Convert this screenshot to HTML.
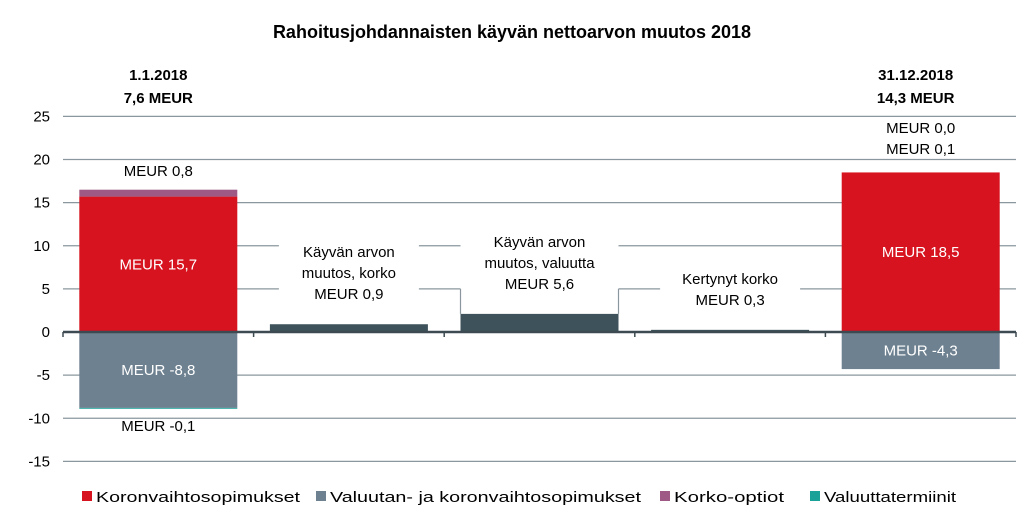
<!DOCTYPE html>
<html><head><meta charset="utf-8"><style>
html,body{margin:0;padding:0;background:#fff;}
svg{display:block;font-family:"Liberation Sans",Arial,sans-serif;}
</style></head><body>
<svg id="chart" width="1024" height="532" viewBox="0 0 1024 532">
<text x="512" y="38" text-anchor="middle" font-size="18" font-weight="bold" fill="#000">Rahoitusjohdannaisten käyvän nettoarvon muutos 2018</text>
<g id="grid"></g><g id="bars"></g><g id="labels"></g><g id="legend"></g>
</svg>
<script>
const yTicks = [25, 20, 15, 10, 5, 0, -5, -10, -15];
const categories = ['1.1.2018', 'korko', 'valuutta', 'kertynyt', '31.12.2018'];
const koronvaihto = [15.7, 0, 0, 0, 18.5];
const valuutan = [-8.8, 0, 0, 0, -4.3];
const korkoOptiot = [0.8, 0, 0, 0, 0.0];
const valuuttatermiinit = [-0.1, 0, 0, 0, 0.0];
const changes = [0, 0.9, 2.1, 0.25, 0];
const changeLabels = [null, ['Käyvän arvon','muutos, korko','MEUR 0,9'], ['Käyvän arvon','muutos, valuutta','MEUR 5,6'], ['Kertynyt korko','MEUR 0,3'], null];
const legendNames = ['Koronvaihtosopimukset', 'Valuutan- ja koronvaihtosopimukset', 'Korko-optiot', 'Valuuttatermiinit'];

const NS = 'http://www.w3.org/2000/svg';
const X0 = 63, X1 = 1016, Y0 = 332, PX = 8.625;
const catW = (X1 - X0) / categories.length, barW = 158;
const y = v => Y0 - v * PX;
const cx = i => X0 + catW * (i + 0.5);
function mk(tag, attrs, parent) { const e = document.createElementNS(NS, tag); for (const k in attrs) e.setAttribute(k, attrs[k]); parent.appendChild(e); return e; }
const grid = document.getElementById('grid'), bars = document.getElementById('bars'), labels = document.getElementById('labels'), legend = document.getElementById('legend');

yTicks.forEach(t => {
  if (t !== 0) {
    const l = mk('line', {x1: X0, x2: X1, y1: y(t), y2: y(t), stroke: '#8a979e', 'stroke-width': 1.3}, grid);
    
    
  }
  const tx = mk('text', {x: 50, y: y(t) + 5, 'text-anchor': 'end', 'font-size': 15, fill: '#000'}, grid);
  tx.textContent = t;
  
  
});

function rect(x, v0, v1, color, name) {
  const top = Math.min(y(v0), y(v1)), h = Math.abs(y(v1) - y(v0));
  const r = mk('rect', {x: x, y: top, width: barW, height: Math.max(h, 0), fill: color}, bars);
  
  
  return r;
}
function txt(x, yy, s, opts, name) {
  const t = mk('text', Object.assign({x: x, y: yy, 'text-anchor': 'middle', 'font-size': 15, fill: '#000'}, opts || {}), labels);
  t.textContent = s;
  
  
  return t;
}
const fmt = v => 'MEUR ' + v.toFixed(1).replace('.', ',');

categories.forEach((c, i) => {
  const x = cx(i) - barW / 2;
  if (i === 0 || i === 4) {
    rect(x, 0, koronvaihto[i], '#d7131f', 'bar-koronvaihto-' + i);
    rect(x, koronvaihto[i], koronvaihto[i] + korkoOptiot[i], '#9e5a84', 'bar-korko-optiot-' + i);
    rect(x, 0, valuutan[i], '#6e8190', 'bar-valuutan-' + i);
    rect(x, valuutan[i], valuutan[i] + valuuttatermiinit[i], '#1aa198', 'bar-valuuttatermiinit-' + i);
    txt(cx(i), (y(0) + y(koronvaihto[i])) / 2 + 5, fmt(koronvaihto[i]), {fill: '#fff'}, 'label-koronvaihto-' + i);
    txt(cx(i), (y(0) + y(valuutan[i])) / 2 + 5, fmt(valuutan[i]), {fill: '#fff'}, 'label-valuutan-' + i);
  } else {
    rect(x, 0, changes[i], '#3d525b', 'bar-change-' + i);
  }
});
// first bar extra labels
txt(cx(0), 176, fmt(korkoOptiot[0]), {}, 'label-korko-optiot-0');
txt(cx(0), 431, fmt(valuuttatermiinit[0]), {}, 'label-valuuttatermiinit-0');
txt(cx(4), 133, fmt(korkoOptiot[4]), {}, 'label-korko-optiot-4');
txt(cx(4), 154, fmt(-0.1).replace('-', ''), {}, 'label-valuuttatermiinit-4');
// header annotations
txt(cx(0), 80, '1.1.2018', {'font-weight': 'bold'}, 'start-date');
txt(cx(0), 103, '7,6 MEUR', {'font-weight': 'bold'}, 'start-total');
txt(cx(4) - 5, 80, '31.12.2018', {'font-weight': 'bold'}, 'end-date');
txt(cx(4) - 5, 103, '14,3 MEUR', {'font-weight': 'bold'}, 'end-total');

// change labels with white boxes
changeLabels.forEach((ls, i) => {
  if (!ls) return;
  const n = ls.length, lh = 21;
  const bottom = y(changes[i]) - 6;
  const top = bottom - n * lh + 2;
  const bw = i === 2 ? barW : 140;
  const b = mk('rect', {x: cx(i) - bw / 2, y: top - 16, width: bw, height: bottom - top + 14, fill: '#fff'}, labels);
  
  
  if (i === 2) {
    [cx(i) - barW / 2, cx(i) + barW / 2].forEach(xx => {
      const v = mk('line', {x1: xx, x2: xx, y1: y(5), y2: y(changes[i]), stroke: '#8a979e', 'stroke-width': 1.2}, labels);
      
      
    });
  }
  ls.forEach((s, k) => txt(cx(i), top + k * lh, s, {}, 'change-label-' + i));
});

// zero axis
const ax = mk('line', {x1: X0, x2: X1, y1: Y0, y2: Y0, stroke: '#3d4a52', 'stroke-width': 2.5}, labels);


for (let i = 0; i <= categories.length; i++) {
  const xx = X0 + catW * i;
  const tk = mk('line', {x1: xx, x2: xx, y1: Y0, y2: Y0 + 5, stroke: '#3d4a52', 'stroke-width': 1.5}, labels);
  
  
}

// legend
const legColors = ['#d7131f', '#6e8190', '#9e5a84', '#1aa198'];
const legX = [82, 316, 660, 810];
const legW = [204, 311, 110, 132];
legendNames.forEach((n, i) => {
  const g = mk('g', {}, legend);
  
  
  mk('rect', {x: legX[i], y: 491, width: 10, height: 10, fill: legColors[i]}, g);
  const t = mk('text', {x: legX[i] + 14, y: 502, 'font-size': 15, fill: '#000', textLength: legW[i], lengthAdjust: 'spacingAndGlyphs'}, g);
  t.textContent = n;
});
</script>
</body></html>
